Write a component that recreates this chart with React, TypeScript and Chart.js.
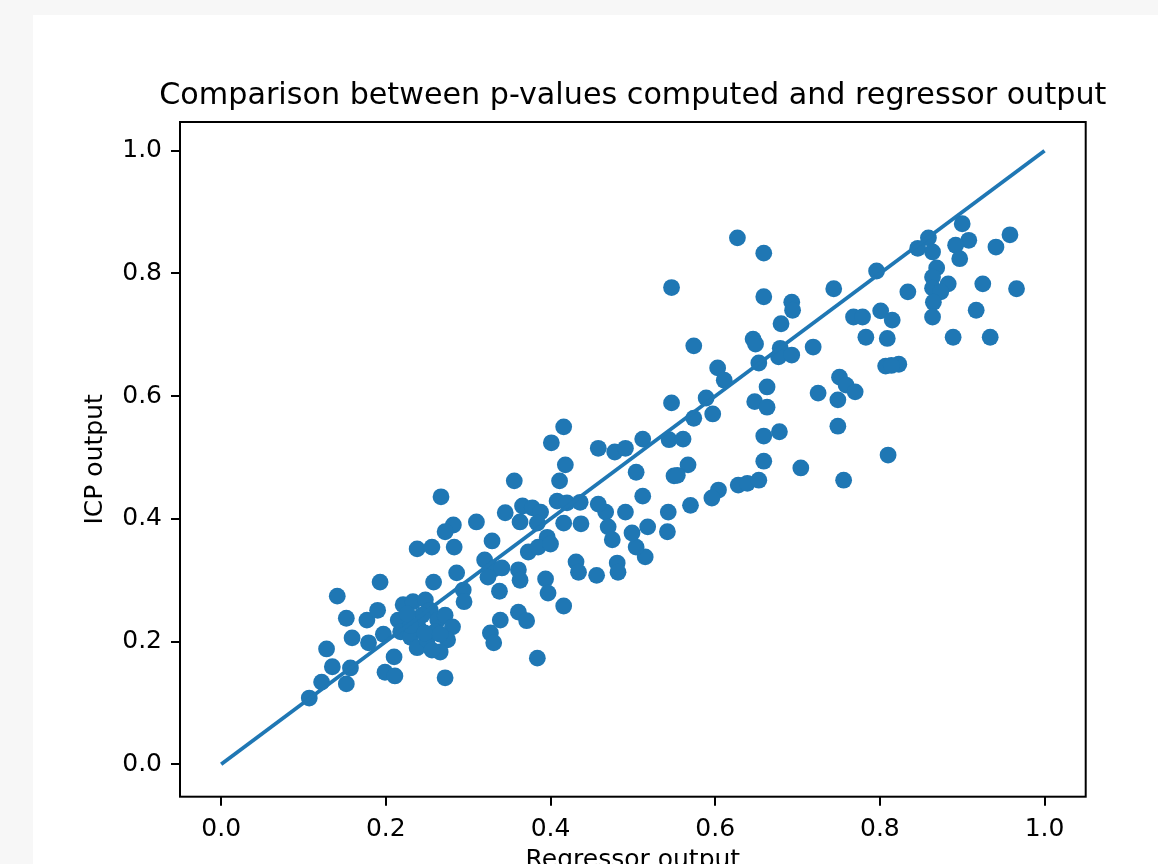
import React, { useEffect, useRef } from 'react';
import { Chart, registerables } from 'chart.js';

Chart.register(...registerables);

const TITLE = 'Comparison between p-values computed and regressor output';
const X_LABEL = 'Regressor output';
const Y_LABEL = 'ICP output';
const X_TICKS = [0, 0.2, 0.4, 0.6, 0.8, 1.0];
const Y_TICKS = [0, 0.2, 0.4, 0.6, 0.8, 1.0];
const LINE_X = [0, 1];
const LINE_Y = [0, 1];

const regressorOutput = [
  0.107, 0.122, 0.128, 0.135, 0.141, 0.152, 0.159, 0.152, 0.157, 0.177,
  0.190, 0.193, 0.179, 0.197, 0.199, 0.210, 0.211, 0.221, 0.215, 0.218,
  0.233, 0.248, 0.254, 0.239, 0.230, 0.238, 0.250, 0.263, 0.272, 0.281,
  0.275, 0.266, 0.256, 0.244, 0.260, 0.272, 0.258, 0.286, 0.294, 0.295,
  0.320, 0.327, 0.331, 0.238, 0.256, 0.283, 0.267, 0.282, 0.272, 0.310,
  0.345, 0.356, 0.329, 0.331, 0.341, 0.324, 0.338, 0.361, 0.363, 0.394,
  0.397, 0.416, 0.361, 0.371, 0.339, 0.384, 0.431, 0.434, 0.456, 0.481,
  0.482, 0.515, 0.504, 0.518, 0.499, 0.542, 0.543, 0.491, 0.467, 0.436,
  0.458, 0.470, 0.475, 0.416, 0.437, 0.366, 0.378, 0.388, 0.384, 0.363,
  0.396, 0.373, 0.385, 0.400, 0.408, 0.420, 0.411, 0.418, 0.401, 0.416,
  0.458, 0.478, 0.491, 0.512, 0.544, 0.547, 0.504, 0.550, 0.512, 0.547,
  0.627, 0.659, 0.659, 0.693, 0.694, 0.680, 0.574, 0.646, 0.649, 0.719,
  0.679, 0.677, 0.693, 0.653, 0.603, 0.611, 0.663, 0.725, 0.589, 0.648,
  0.663, 0.597, 0.574, 0.561, 0.659, 0.678, 0.567, 0.554, 0.659, 0.704,
  0.604, 0.628, 0.639, 0.653, 0.596, 0.570, 0.900, 0.908, 0.892, 0.897,
  0.859, 0.846, 0.864, 0.958, 0.941, 0.796, 0.744, 0.869, 0.864, 0.883,
  0.864, 0.874, 0.865, 0.864, 0.834, 0.925, 0.966, 0.917, 0.768, 0.779,
  0.801, 0.815, 0.783, 0.809, 0.889, 0.934, 0.807, 0.823, 0.814, 0.751,
  0.759, 0.770, 0.749, 0.749, 0.810, 0.756, 0.230, 0.247, 0.266, 0.226,
];

const icpOutput = [
  0.108, 0.134, 0.188, 0.159, 0.274, 0.238, 0.206, 0.131, 0.157, 0.235,
  0.251, 0.297, 0.198, 0.212, 0.150, 0.175, 0.144, 0.260, 0.235, 0.216,
  0.265, 0.268, 0.251, 0.224, 0.207, 0.190, 0.203, 0.235, 0.243, 0.224,
  0.203, 0.183, 0.186, 0.243, 0.216, 0.141, 0.297, 0.312, 0.284, 0.265,
  0.333, 0.214, 0.198, 0.351, 0.354, 0.354, 0.436, 0.390, 0.379, 0.395,
  0.410, 0.462, 0.364, 0.318, 0.320, 0.305, 0.282, 0.317, 0.300, 0.302,
  0.279, 0.258, 0.248, 0.234, 0.235, 0.173, 0.330, 0.313, 0.308, 0.328,
  0.313, 0.338, 0.354, 0.387, 0.377, 0.379, 0.411, 0.411, 0.411, 0.427,
  0.424, 0.387, 0.366, 0.393, 0.392, 0.421, 0.418, 0.411, 0.393, 0.395,
  0.370, 0.346, 0.354, 0.359, 0.429, 0.426, 0.462, 0.488, 0.524, 0.550,
  0.515, 0.509, 0.515, 0.530, 0.529, 0.589, 0.476, 0.470, 0.437, 0.777,
  0.858, 0.833, 0.762, 0.753, 0.740, 0.718, 0.682, 0.693, 0.685, 0.680,
  0.678, 0.664, 0.667, 0.654, 0.646, 0.626, 0.615, 0.605, 0.597, 0.591,
  0.582, 0.571, 0.564, 0.530, 0.535, 0.542, 0.488, 0.471, 0.494, 0.483,
  0.447, 0.455, 0.458, 0.463, 0.434, 0.422, 0.881, 0.854, 0.846, 0.824,
  0.858, 0.841, 0.835, 0.863, 0.843, 0.804, 0.775, 0.809, 0.794, 0.783,
  0.776, 0.770, 0.753, 0.729, 0.770, 0.783, 0.775, 0.740, 0.729, 0.729,
  0.739, 0.724, 0.696, 0.694, 0.696, 0.696, 0.649, 0.652, 0.650, 0.631,
  0.618, 0.607, 0.594, 0.551, 0.504, 0.463, 0.226, 0.214, 0.212, 0.245,
];

const BLUE = '#1f77b4';
const FONT = 'DejaVu Sans';

const framePlugin = {
  id: 'frame',
  afterDatasetsDraw(chart: any) {
    const { ctx, chartArea: a } = chart;
    ctx.save();
    ctx.strokeStyle = '#000';
    ctx.lineWidth = 2;
    ctx.strokeRect(a.left, a.top, a.right - a.left, a.bottom - a.top);
    ctx.restore();
  },
};

const titlePlugin = {
  id: 'axesTitle',
  afterDraw(chart: any) {
    const { ctx, chartArea: a } = chart;
    ctx.save();
    ctx.font = `normal 30.2px "${FONT}"`;
    ctx.fillStyle = '#000';
    ctx.textAlign = 'center';
    ctx.textBaseline = 'alphabetic';
    ctx.fillText(TITLE, (a.left + a.right) / 2, a.top - 18);
    ctx.restore();
  },
};

export default function App() {
  const ref = useRef<HTMLCanvasElement | null>(null);

  useEffect(() => {
    if (!ref.current) return;
    const points = regressorOutput.map((x, i) => ({ x, y: icpOutput[i] }));
    const line = LINE_X.map((x, i) => ({ x, y: LINE_Y[i] }));
    const tickFont = { family: FONT, size: 25 };
    const chart = new Chart(ref.current, {
      type: 'scatter',
      data: {
        datasets: [
          {
            type: 'line',
            data: line,
            borderColor: BLUE,
            borderWidth: 3.8,
            pointRadius: 0,
            fill: false,
            order: 0,
          } as any,
          {
            type: 'scatter',
            data: points,
            backgroundColor: BLUE,
            borderWidth: 0,
            pointRadius: 8.4,
            order: 1,
          },
        ],
      },
      options: {
        responsive: false,
        animation: false,
        devicePixelRatio: 1,
        layout: { padding: { left: 0, top: 107, right: 72.3, bottom: 0 } },
        plugins: {
          legend: { display: false },
          tooltip: { enabled: false },
          title: { display: false },
        },
        scales: {
          x: {
            type: 'linear',
            min: -0.05,
            max: 1.05,
            afterBuildTicks: (s: any) => {
              s.ticks = X_TICKS.map((v) => ({ value: v }));
            },
            afterFit: (s: any) => {
              s.height = 118.3;
            },
            ticks: {
              color: '#000',
              font: tickFont,
              padding: 9,
              maxRotation: 0,
              autoSkip: false,
              callback: (v: any) => Number(v).toFixed(1),
            },
            grid: {
              drawOnChartArea: false,
              drawTicks: true,
              tickLength: 9,
              tickWidth: 2,
              lineWidth: 2,
              tickColor: '#000',
              color: '#000',
            },
            border: { display: false },
            title: {
              display: true,
              text: X_LABEL,
              color: '#000',
              font: tickFont,
              padding: { top: 0, bottom: 40 },
            },
          },
          y: {
            type: 'linear',
            min: -0.0528,
            max: 1.0468,
            afterBuildTicks: (s: any) => {
              s.ticks = Y_TICKS.map((v) => ({ value: v }));
            },
            afterFit: (s: any) => {
              s.width = 147;
            },
            ticks: {
              color: '#000',
              font: tickFont,
              padding: 9,
              autoSkip: false,
              callback: (v: any) => Number(v).toFixed(1),
            },
            grid: {
              drawOnChartArea: false,
              drawTicks: true,
              tickLength: 9,
              tickWidth: 2,
              lineWidth: 2,
              tickColor: '#000',
              color: '#000',
            },
            border: { display: false },
            title: {
              display: true,
              text: Y_LABEL,
              color: '#000',
              font: tickFont,
              padding: { top: 47, bottom: 0 },
            },
          },
        },
      },
      plugins: [framePlugin, titlePlugin],
    });
    return () => chart.destroy();
  }, []);

  return (
    <div
      style={{
        position: 'fixed',
        left: 0,
        top: 0,
        width: '100vw',
        height: '100vh',
        overflow: 'hidden',
        background: '#f7f7f7',
      }}
    >
      <div
        style={{
          position: 'absolute',
          left: 33,
          top: 15,
          width: 1125,
          height: 900,
          background: '#ffffff',
        }}
      >
        <canvas ref={ref} width={1125} height={900} style={{ display: 'block' }} />
      </div>
    </div>
  );
}
